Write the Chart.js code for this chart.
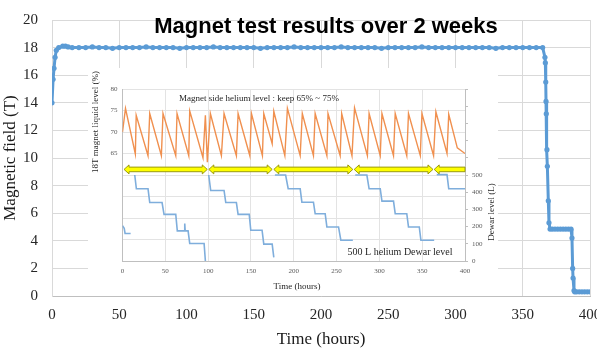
<!DOCTYPE html>
<html>
<head>
<meta charset="utf-8">
<script src="https://cdn.jsdelivr.net/npm/chart.js@4"></script>
<style>
  body { margin: 0; background: #fff; }
  #wrap { position: relative; width: 597px; height: 354px; overflow: hidden; }
  #mainChart { position: absolute; left: 0; top: 0; }
  #insetBox { position: absolute; left: 88px; top: 68px; width: 410px; height: 228px; background: #fff; }
</style>
</head>
<body>
<div id="wrap">
  <canvas id="mainChart" width="597" height="354"></canvas>
  <div id="insetBox"><canvas id="insetChart" width="410" height="228"></canvas></div>
</div>
<script>
// main chart: magnetic field (T) vs time (hours)
const fieldTime = [0, 0.8, 1.5, 2.3, 3.2, 5, 8, 10, 12, 15, 20, 25, 30, 35, 40, 45, 50, 55, 60, 65, 70,
  75, 80, 85, 90, 95, 100, 105, 110, 115, 120, 125, 130, 135, 140, 145, 150, 155, 160, 165, 170,
  175, 180, 185, 190, 195, 200, 205, 210, 215, 220, 225, 230, 235, 240, 245, 250, 255, 260, 265,
  270, 275, 280, 285, 290, 295, 300, 305, 310, 315, 320, 325, 330, 335, 340, 345, 350, 355, 360,
  364.8, 366.5, 366.8, 367.1, 367.3, 367.5, 368, 368.3, 369, 369.5, 370.3, 372, 374, 376, 378,
  380, 382, 384, 385.9, 386.6, 387.1, 387.4, 388.1, 388.6, 390, 392, 394, 396, 398, 400];
const fieldValue = [14.0, 15.7, 16.5, 17.3, 17.8, 18.0, 18.1, 18.1, 18.05, 18.0, 18.0, 18.0, 18.05, 18.0, 18.0, 17.95, 18.0, 18.0, 18.0, 18.0, 18.05,
  18.0, 18.0, 18.0, 18.0, 17.95, 18.0, 18.0, 18.0, 18.0, 18.05, 18.0, 18.0, 18.0, 18.0, 18.0, 18.0, 17.95, 18.0, 18.0, 18.0,
  18.0, 18.05, 18.0, 18.0, 18.0, 18.0, 18.0, 18.0, 18.05, 18.0, 18.0, 18.0, 18.0, 18.0, 17.95, 18.0, 18.0, 18.0, 18.0,
  18.0, 18.05, 18.0, 18.0, 18.0, 18.0, 18.0, 18.0, 18.0, 18.0, 18.0, 18.0, 17.95, 18.0, 18.0, 18.0, 18.0, 18.0, 18.0,
  18.0, 17.3, 16.9, 15.5, 14.1, 13.2, 10.6, 9.4, 6.9, 5.3, 4.85, 4.85, 4.85, 4.85, 4.85,
  4.85, 4.85, 4.85, 4.85, 4.2, 2.0, 1.3, 0.4, 0.3, 0.3, 0.3, 0.3, 0.3, 0.3, 0.3];
const mainXTicks = [0, 50, 100, 150, 200, 250, 300, 350, 400];
const mainYTicks = [0, 2, 4, 6, 8, 10, 12, 14, 16, 18, 20];

// inset: magnet side helium level (%) and dewar level (L)
const heliumTime = [0, 3.5, 15, 16, 29.8, 31.8, 45.4, 47.3, 62.2, 63.7, 77.4, 78.5, 94, 96.8, 99.1, 102.6,
  115.5, 118.6, 133, 135, 148.7, 150.6, 163.4, 165, 174.8, 176.7, 189.6, 192.6, 207.5, 210, 223, 225,
  238.7, 240, 254.2, 256, 268, 271, 286, 288, 301, 303, 316.5, 318.5, 332, 334, 347.8, 349.7, 363.3,
  366, 379, 381, 391, 400];
const heliumLevel = [70, 75.5, 64.9, 73.9, 64.5, 74.3, 64.5, 74.3, 64.5, 74.3, 64.5, 74.9, 64, 73.9, 63, 74.3,
  64.5, 74.3, 64.5, 74.3, 64.5, 74.3, 64.5, 74.3, 67.3, 74.8, 64.5, 75.5, 64.5, 74.3, 64.5, 74.3,
  64.5, 74.3, 64.5, 74.3, 64.5, 75.6, 64.5, 74.3, 64.5, 74.3, 64.5, 74.3, 64.5, 74.3, 64.5, 74.3, 64.5,
  74.7, 65, 74.1, 66.3, 65];
const dewarTime = [0, 2, 3, 9.5, 12,
  14.3, 16.2, 29.8, 31.8, 46.2, 48.5, 62.2, 64, 72, 72.7, 73.2, 76.6, 78.5, 95.3, 96.8, 98,
  100.7, 103, 118.6, 120.6, 133, 135, 148, 149.8, 163, 165, 174.8, 176.7, 177.3,
  178, 190.5, 193.5, 207.5, 209.5, 223, 225, 236.7, 238.7, 252.3, 255, 269, 270,
  271.8, 285.4, 288, 301, 303, 316.5, 318.5, 332, 334, 346.6, 348.5, 364, 365,
  367, 379, 381, 400];
const dewarLevel = [205, 190, 160, 160, null,
  500, 420, 420, 340, 340, 271, 271, 175, 175, 218, 175, 175, 102, 102, 0, null,
  500, 410, 410, 340, 340, 271, 271, 179, 179, 98, 98, 21, null,
  500, 500, 420, 420, 342, 342, 275, 275, 198, 198, 121, 121, null,
  500, 500, 420, 420, 348, 348, 275, 275, 198, 198, 121, 121, null,
  502, 502, 420, 420];
// dewar change periods (hours), drawn as yellow double arrows
const dewarPeriods = [[1.8, 99], [100.8, 174.8], [176.7, 269], [270.6, 362.6], [364, 400]];
const arrowLevel = 61.3;

const serif = '"Liberation Serif", "Times New Roman", serif';
const pts = (xs, ys) => xs.map((t, i) => ({ x: t, y: ys[i] }));

const mainText = {
  id: 'mainText',
  afterDraw(chart) {
    const ctx = chart.ctx;
    ctx.save();
    ctx.fillStyle = '#000';
    ctx.textAlign = 'center';
    ctx.textBaseline = 'middle';
    ctx.font = 'bold 22px "Liberation Sans", Arial, sans-serif';
    ctx.fillText('Magnet test results over 2 weeks', 326, 27);
    ctx.fillStyle = '#1a1a1a';
    ctx.font = '17px ' + serif;
    ctx.fillText('Time (hours)', 321, 340);
    ctx.translate(11, 158);
    ctx.rotate(-Math.PI / 2);
    ctx.fillText('Magnetic field (T)', 0, 0);
    ctx.restore();
  }
};

new Chart(document.getElementById('mainChart'), {
  type: 'line',
  data: {
    datasets: [{
      data: pts(fieldTime, fieldValue),
      borderColor: '#5B9BD5',
      backgroundColor: '#5B9BD5',
      borderWidth: 3,
      pointRadius: 2.6,
      pointBorderWidth: 0,
      tension: 0
    }]
  },
  options: {
    responsive: false,
    animation: false,
    layout: { padding: { top: 20, right: 7, left: 0, bottom: 0 } },
    plugins: { legend: { display: false }, tooltip: { enabled: false } },
    scales: {
      x: {
        type: 'linear', min: 0, max: 400,
        afterBuildTicks: s => { s.ticks = mainXTicks.map(v => ({ value: v })); },
        ticks: { font: { family: serif, size: 15 }, color: '#262626', padding: 10, maxRotation: 0 },
        grid: { color: '#D9D9D9', drawTicks: false },
        border: { color: '#BFBFBF' },
        afterFit: s => { s.height = 58; s.paddingLeft = 0; s.paddingRight = 0; }
      },
      y: {
        min: 0, max: 20,
        afterBuildTicks: s => { s.ticks = mainYTicks.map(v => ({ value: v })); },
        ticks: { font: { family: serif, size: 15 }, color: '#262626', padding: 14 },
        grid: { color: '#D9D9D9', drawTicks: false },
        border: { color: '#D9D9D9' },
        afterFit: s => { s.width = 52; s.paddingTop = 0; s.paddingBottom = 0; }
      }
    }
  },
  plugins: [mainText]
});

const insetExtras = {
  id: 'insetExtras',
  afterDatasetsDraw(chart) {
    const ctx = chart.ctx;
    const xs = chart.scales.x, ys = chart.scales.y;
    const y = ys.getPixelForValue(arrowLevel);
    ctx.save();
    ctx.fillStyle = '#FFFF00';
    ctx.strokeStyle = '#9A9A10';
    ctx.lineWidth = 1;
    dewarPeriods.forEach((p, i) => {
      const x1 = xs.getPixelForValue(p[0]);
      const x2 = xs.getPixelForValue(p[1]);
      const last = i === dewarPeriods.length - 1;
      const h = 5, sh = 2.3, hh = 4.5;
      ctx.beginPath();
      ctx.moveTo(x1, y);
      ctx.lineTo(x1 + h, y - hh);
      ctx.lineTo(x1 + h, y - sh);
      if (last) {
        ctx.lineTo(x2, y - sh);
        ctx.lineTo(x2, y + sh);
      } else {
        ctx.lineTo(x2 - h, y - sh);
        ctx.lineTo(x2 - h, y - hh);
        ctx.lineTo(x2, y);
        ctx.lineTo(x2 - h, y + hh);
        ctx.lineTo(x2 - h, y + sh);
      }
      ctx.lineTo(x1 + h, y + sh);
      ctx.lineTo(x1 + h, y + hh);
      ctx.closePath();
      ctx.fill();
      ctx.stroke();
    });
    ctx.restore();
  },
  afterDraw(chart) {
    const ctx = chart.ctx;
    ctx.save();
    ctx.fillStyle = '#262626';
    ctx.textAlign = 'center';
    ctx.textBaseline = 'middle';
    ctx.font = '9px ' + serif;
    ctx.fillText('Magnet side helium level : keep 65% ~ 75%', 171, 31);
    ctx.fillText('Time (hours)', 209, 219);
    ctx.font = '10px ' + serif;
    ctx.fillText('500 L helium Dewar level', 312, 184);
    ctx.font = '9px ' + serif;
    ctx.save();
    ctx.translate(8, 54);
    ctx.rotate(-Math.PI / 2);
    ctx.fillText('18T magnet liquid level (%)', 0, 0);
    ctx.restore();
    ctx.translate(404, 144);
    ctx.rotate(-Math.PI / 2);
    ctx.fillText('Dewar level (L)', 0, 0);
    ctx.restore();
  }
};

new Chart(document.getElementById('insetChart'), {
  type: 'line',
  data: {
    datasets: [{
      data: pts(heliumTime, heliumLevel),
      yAxisID: 'y',
      borderColor: '#F0904F',
      borderWidth: 1.4,
      pointRadius: 0,
      tension: 0
    }, {
      data: pts(dewarTime, dewarLevel),
      yAxisID: 'y1',
      borderColor: '#7FAEDC',
      borderWidth: 1.6,
      pointRadius: 0,
      tension: 0,
      spanGaps: false
    }]
  },
  options: {
    responsive: false,
    animation: false,
    layout: { padding: { top: 21, right: 0, left: 0, bottom: 0 } },
    plugins: { legend: { display: false }, tooltip: { enabled: false } },
    scales: {
      x: {
        type: 'linear', min: 0, max: 400,
        ticks: { stepSize: 50, font: { family: serif, size: 7 }, color: '#595959', padding: 6, maxRotation: 0 },
        grid: { color: '#E3E3E3', drawTicks: false },
        border: { color: '#BFBFBF' },
        afterFit: s => { s.height = 35; s.paddingLeft = 0; s.paddingRight = 0; }
      },
      y: {
        min: 40, max: 80,
        ticks: { stepSize: 5, font: { family: serif, size: 7 }, color: '#595959', padding: 5,
          callback: v => (v >= 65 ? v : '') },
        grid: { color: '#E3E3E3', drawTicks: false },
        border: { color: '#BFBFBF' },
        afterFit: s => { s.width = 34.5; s.paddingTop = 0; s.paddingBottom = 0; }
      },
      y1: {
        position: 'right', min: 0, max: 1000,
        ticks: { stepSize: 100, font: { family: serif, size: 7 }, color: '#595959', padding: 4,
          callback: v => (v <= 500 ? v : '') },
        grid: { drawOnChartArea: false, tickLength: 3, color: '#BFBFBF' },
        border: { color: '#BFBFBF' },
        afterFit: s => { s.width = 33; s.paddingTop = 0; s.paddingBottom = 0; }
      }
    }
  },
  plugins: [insetExtras]
});
</script>
</body>
</html>
